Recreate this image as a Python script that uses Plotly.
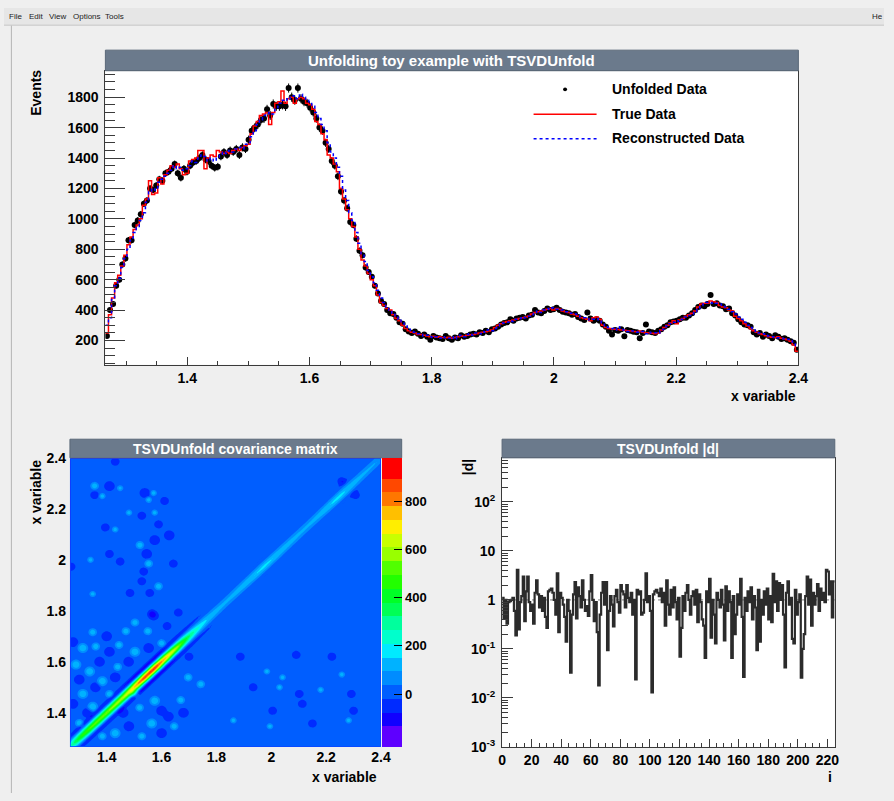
import numpy as np
import plotly.graph_objects as go
import colorsys

W, H = 894, 801
FONT = "Liberation Sans, Arial, Helvetica, sans-serif"

# ---------------- data ----------------
X_MIN, X_MAX, N_BINS = 1.266, 2.4, 225

true_data = [
    250, 370, 480, 580, 630, 690, 760, 830, 880, 930,
    960, 1000, 1090, 1130, 1250, 1160, 1170, 1270, 1230, 1290,
    1320, 1350, 1340, 1360, 1330, 1290, 1300, 1380, 1390, 1400,
    1450, 1450, 1330, 1400, 1420, 1410, 1450, 1440, 1430, 1440,
    1430, 1450, 1460, 1450, 1470, 1480, 1490, 1560, 1610, 1640,
    1680, 1690, 1700, 1620, 1700, 1760, 1770, 1840, 1760, 1790,
    1800, 1760, 1790, 1800, 1790, 1760, 1750, 1720, 1640, 1620,
    1560, 1520, 1420, 1400, 1360, 1310, 1200, 1130, 1060, 1000,
    950, 880, 800, 730, 690, 640, 600, 560, 500, 450,
    430, 410, 400, 370, 345, 330, 300, 280, 265, 255,
    250, 240, 240, 235, 230, 225, 228, 222, 225, 220,
    218, 222, 215, 220, 225, 230, 228, 235, 238, 240,
    245, 250, 255, 258, 262, 270, 285, 300, 310, 320,
    325, 330, 335, 340, 345, 350, 355, 362, 375, 385,
    390, 395, 400, 405, 410, 400, 410, 405, 395, 390,
    385, 375, 370, 360, 350, 345, 340, 330, 350, 355,
    340, 300, 285, 280, 278, 275, 272, 270, 268, 265,
    262, 260, 258, 262, 255, 250, 252, 248, 245, 250,
    270, 285, 300, 315, 330, 310, 335, 345, 360, 370,
    380, 395, 420, 440, 445, 445, 460, 455, 450, 430,
    420, 415, 400, 395, 360, 345, 330, 310, 295, 280,
    265, 255, 245, 240, 232, 225, 222, 220, 225, 215,
    210, 205, 195, 170, 130,
]

unfolded_data = [
    230, 400, 440, 560, 600, 700, 740, 860, 860, 960,
    990, 1030, 1100, 1120, 1200, 1190, 1220, 1260, 1250, 1300,
    1310, 1330, 1360, 1300, 1270, 1330, 1310, 1350, 1370, 1380,
    1400, 1420, 1390, 1380, 1350, 1336, 1343, 1410, 1440, 1420,
    1450, 1440, 1460, 1420, 1470, 1460, 1520, 1580, 1600, 1620,
    1650, 1660, 1720, 1680, 1755, 1740, 1740, 1750, 1740, 1860,
    1800, 1780, 1860, 1790, 1770, 1760, 1730, 1700, 1660, 1600,
    1580, 1500, 1460, 1380, 1350, 1280, 1180, 1120, 1070, 980,
    960, 870, 790, 760, 680, 650, 620, 560, 510, 460,
    440, 400, 380, 375, 350, 320, 310, 275, 260, 250,
    260, 245, 230, 240, 225, 205, 230, 220, 215, 210,
    230, 215, 205, 220, 215, 235, 225, 230, 240, 245,
    240, 255, 250, 265, 255, 275, 280, 290, 305, 315,
    320, 340, 330, 345, 350, 355, 345, 365, 370, 400,
    385, 380, 395, 410, 400, 405, 415, 400, 390, 385,
    380, 370, 375, 355, 345, 335, 385, 345, 330, 340,
    330, 305, 290, 265, 240, 270, 265, 275, 228, 270,
    265, 258, 255, 215, 250, 305, 260, 255, 250, 265,
    275, 290, 300, 320, 325, 330, 340, 350, 350, 365,
    380, 400, 420, 430, 425, 440, 500, 440, 445, 430,
    425, 405, 410, 380, 365, 340, 320, 305, 300, 290,
    255, 240, 250, 225, 240, 230, 215, 235, 225, 210,
    215, 205, 195, 185, 140,
]

reco_data = [
    300, 350, 470, 560, 610, 680, 740, 800, 860, 910,
    950, 990, 1040, 1110, 1180, 1200, 1190, 1240, 1260, 1280,
    1300, 1320, 1350, 1330, 1340, 1320, 1330, 1350, 1380, 1370,
    1400, 1420, 1410, 1380, 1400, 1380, 1400, 1420, 1440, 1430,
    1450, 1440, 1460, 1470, 1460, 1490, 1500, 1540, 1580, 1620,
    1650, 1680, 1690, 1700, 1690, 1730, 1760, 1780, 1790, 1780,
    1800, 1810, 1790, 1820, 1800, 1780, 1770, 1740, 1700, 1660,
    1620, 1580, 1500, 1440, 1400, 1340, 1280, 1190, 1120, 1040,
    990, 910, 840, 770, 720, 660, 620, 580, 530, 480,
    450, 420, 400, 380, 355, 340, 315, 295, 275, 260,
    255, 245, 240, 230, 235, 225, 220, 225, 215, 225,
    220, 215, 225, 210, 230, 235, 225, 240, 245, 235,
    250, 245, 260, 255, 270, 265, 280, 295, 305, 315,
    320, 330, 325, 340, 345, 355, 350, 360, 370, 380,
    395, 385, 400, 410, 405, 415, 405, 400, 400, 390,
    390, 380, 375, 365, 355, 350, 345, 335, 340, 345,
    335, 315, 290, 285, 280, 270, 290, 275, 270, 260,
    265, 262, 255, 258, 260, 245, 255, 250, 252, 248,
    265, 275, 295, 310, 320, 330, 325, 340, 355, 365,
    375, 390, 410, 430, 440, 450, 445, 450, 445, 440,
    425, 420, 405, 390, 375, 355, 340, 320, 300, 285,
    270, 260, 250, 245, 235, 230, 225, 222, 218, 215,
    212, 208, 200, 190, 160,
]

# |d_i| (SVD coefficients)
d_abs = [
    1.1, 0.42, 1.0, 0.33, 0.9, 0.95, 1.0, 1.1, 0.6, 0.19,
    4.1, 0.25, 0.9, 1.2, 3.0, 0.37, 1.5, 3.0, 0.9, 0.6,
    0.8, 0.33, 1.4, 2.5, 1.3, 0.7, 1.2, 0.6, 1.1, 0.45,
    0.27, 1.5, 1.6, 1.7, 1.4, 1.0, 0.5, 3.5, 0.22, 1.4,
    1.1, 0.8, 0.45, 0.14, 1.0, 0.6, 0.033, 0.5, 1.3, 2.3,
    0.42, 1.8, 1.2, 0.7, 2.5, 1.0, 0.6, 0.75, 0.47, 1.5,
    3.2, 1.0, 0.37, 0.9, 0.22, 0.018, 0.5, 1.4, 2.3, 0.8,
    2.3, 0.095, 0.6, 1.2, 0.8, 0.29, 1.2, 1.6, 0.9, 0.55,
    2.0, 1.5, 1.3, 0.7, 2.0, 1.1, 0.9, 1.4, 0.5, 1.0,
    0.024, 1.6, 1.3, 1.5, 0.5, 0.55, 1.0, 3.5, 0.9, 1.2,
    0.6, 0.013, 1.3, 1.5, 1.6, 1.4, 1.2, 1.7, 0.9, 1.4,
    0.3, 2.5, 0.8, 0.5, 1.6, 0.7, 1.8, 0.9, 0.4, 1.1,
    0.07, 0.27, 1.2, 0.6, 1.4, 2.0, 1.0, 0.5, 1.2, 1.5,
    0.8, 1.6, 0.35, 1.3, 0.9, 0.4, 0.3, 0.066, 1.5, 0.9,
    2.7, 0.17, 1.0, 0.5, 0.13, 1.4, 1.0, 0.7, 1.6, 0.8,
    0.15, 1.9, 0.6, 1.5, 0.9, 0.066, 1.2, 0.2, 0.5, 1.3,
    0.8, 2.7, 0.45, 0.027, 1.1, 0.6, 1.5, 0.9, 1.8, 0.4,
    1.2, 0.7, 0.095, 1.6, 0.14, 1.0, 0.5, 1.5, 0.8, 1.7,
    0.4, 1.2, 0.35, 3.4, 0.9, 2.4, 0.6, 2.2, 1.0, 2.0,
    0.5, 0.042, 1.4, 2.4, 0.8, 1.1, 0.16, 0.13, 1.6, 0.5,
    0.9, 1.3, 0.026, 0.1, 0.2, 1.2, 3.0, 0.8, 2.6, 0.3,
    1.4, 0.8, 1.2, 2.1, 0.6, 1.7, 1.0, 1.4, 0.9, 4.1,
    3.8, 1.3, 2.4, 0.44, 2.4,
]

# diagonal of the covariance matrix (variance of the unfolded bins)
cov_diag = [
    260, 290, 320, 350, 380, 400, 420, 440, 460, 470,
    480, 490, 500, 510, 520, 520, 530, 530, 540, 540,
    540, 550, 550, 560, 560, 560, 570, 570, 580, 580,
    590, 590, 600, 600, 610, 610, 620, 620, 630, 640,
    650, 660, 680, 700, 720, 740, 760, 780, 800, 820,
    840, 860, 880, 900, 910, 880, 900, 920, 930, 910,
    930, 920, 900, 880, 860, 840, 820, 800, 780, 760,
    740, 720, 700, 680, 660, 640, 620, 600, 570, 540,
    510, 480, 450, 420, 390, 360, 340, 320, 300, 280,
    260, 245, 230, 215, 200, 190, 180, 170, 160, 155,
    150, 145, 140, 135, 130, 128, 125, 122, 120, 118,
    116, 115, 114, 114, 115, 116, 118, 120, 122, 124,
    126, 128, 130, 132, 134, 136, 138, 140, 142, 145,
    148, 150, 152, 155, 158, 160, 162, 165, 168, 170,
    172, 170, 168, 165, 162, 160, 156, 152, 148, 145,
    142, 140, 138, 136, 134, 132, 130, 128, 126, 125,
    124, 122, 120, 118, 116, 115, 114, 113, 112, 112,
    112, 112, 113, 114, 115, 116, 118, 120, 122, 125,
    128, 131, 134, 137, 140, 144, 148, 152, 156, 160,
    164, 168, 170, 172, 172, 170, 168, 165, 160, 155,
    150, 146, 142, 138, 134, 130, 127, 124, 121, 118,
    116, 114, 112, 110, 108, 106, 105, 104, 103, 102,
    100, 98, 96, 94, 90,
]

# correlation between bins as a function of bin distance
cov_lag_corr = [1.0, 0.9, 0.76, 0.58, 0.38, 0.2, 0.05, -0.07, -0.12, -0.1, -0.05]

# off-diagonal covariance fluctuations: (x, y, peak value, radius in bins)
cov_blobs = [
    (1.431, 2.385, -70, 2), (1.356, 2.290, 140, 2), (1.410, 2.289, -70, 3), (1.449, 2.281, 120, 1),
    (1.356, 2.254, -70, 2), (1.384, 2.250, 130, 1), (1.539, 2.262, -70, 3), (1.571, 2.262, 130, 1),
    (1.611, 2.231, -70, 2), (1.553, 2.235, 130, 1), (1.481, 2.185, 130, 1), (1.528, 2.173, -70, 2),
    (1.575, 2.185, 130, 1), (1.589, 2.139, -70, 2), (1.395, 2.127, -70, 2), (1.431, 2.119, 130, 1),
    (1.628, 2.096, -70, 3), (1.575, 2.077, -70, 3), (1.521, 2.058, 140, 2), (1.546, 2.023, -70, 3),
    (1.410, 2.023, -70, 2), (1.449, 1.993, -70, 2), (1.553, 1.985, 140, 2), (1.270, 1.973, -70, 2),
    (1.341, 2.000, 130, 1), (1.535, 1.954, -70, 2), (1.643, 1.985, -70, 2), (1.589, 1.896, 140, 2),
    (1.528, 1.916, -70, 2), (1.485, 1.870, -70, 2), (1.557, 1.870, -70, 2), (1.349, 1.866, 130, 1),
    (1.571, 1.781, -70, 3), (1.661, 1.793, -70, 2), (2.257, 2.308, -70, 2), (2.307, 2.254, -70, 2),
    (1.503, 1.754, 140, 2), (1.349, 1.716, 140, 2), (1.564, 1.789, -70, 2), (1.277, 1.677, -70, 3),
    (1.313, 1.654, 150, 3), (1.410, 1.639, -70, 3), (1.445, 1.666, 140, 2), (1.503, 1.639, 150, 3),
    (1.553, 1.654, -70, 3), (1.600, 1.673, 140, 2), (1.288, 1.589, 150, 3), (1.338, 1.562, 150, 3),
    (1.374, 1.600, -70, 3), (1.384, 1.524, 150, 3), (1.431, 1.539, -70, 3), (1.359, 1.500, -70, 3),
    (1.313, 1.474, 150, 3), (1.277, 1.435, -70, 3), (1.349, 1.424, 150, 3), (1.410, 1.474, 140, 2),
    (1.503, 1.474, 140, 2), (1.575, 1.447, 150, 3), (1.600, 1.408, -70, 3), (1.564, 1.358, 150, 3),
    (1.625, 1.385, -70, 3), (1.646, 1.347, 140, 2), (1.481, 1.347, -70, 3), (1.431, 1.320, 150, 3),
    (1.384, 1.308, 140, 2), (1.528, 1.308, 140, 2), (1.600, 1.320, -70, 3), (1.697, 1.539, 140, 2),
    (1.743, 1.512, 140, 2),
    (1.300, 1.360, 140, 2), (1.330, 1.400, -70, 3), (1.460, 1.400, -70, 3), (1.520, 1.420, 140, 2),
    (1.440, 1.580, 140, 2), (1.480, 1.600, -70, 3), (1.400, 1.700, -70, 3), (1.470, 1.720, 140, 2),
    (1.300, 1.530, -70, 3), (1.550, 1.720, 140, 2), (1.620, 1.740, -70, 2), (1.670, 1.450, 140, 2),
    (1.680, 1.400, -70, 3), (1.700, 1.620, -70, 2), (1.360, 1.660, 140, 2),
    (1.887, 1.620, -70, 2), (1.984, 1.562, 130, 1), (2.041, 1.539, 130, 1), (2.091, 1.627, -70, 2),
    (2.221, 1.620, -70, 2), (2.257, 1.550, 130, 1), (1.934, 1.500, -70, 2), (2.030, 1.500, 130, 1),
    (2.102, 1.474, -70, 2), (2.180, 1.490, 130, 1), (2.292, 1.474, -70, 2), (2.300, 1.408, -70, 2),
    (2.282, 1.370, 130, 1), (2.005, 1.408, -70, 2), (2.113, 1.435, -70, 2), (1.862, 1.370, 130, 1),
    (1.995, 1.347, 130, 1), (2.150, 1.358, -70, 2),
]

x_tick_vals = [1.4, 1.6, 1.8, 2.0, 2.2, 2.4]
cov_tick_vals = [0, 200, 400, 600, 800]
d_tick_vals = [1e-3, 1e-2, 1e-1, 1, 10, 100]
d_tick_text = ["10<sup>-3</sup>", "10<sup>-2</sup>", "10<sup>-1</sup>", "1", "10", "10<sup>2</sup>"]

# ---------------- derived structures ----------------
edges = np.linspace(X_MIN, X_MAX, N_BINS + 1)
centers = 0.5 * (edges[:-1] + edges[1:])
bin_w = (X_MAX - X_MIN) / N_BINS
true_arr = np.array(true_data, float)
unf_arr = np.array(unfolded_data, float)
reco_arr = np.array(reco_data, float)
diag = np.array(cov_diag, float)
unf_err = np.sqrt(diag)

cov = np.zeros((N_BINS, N_BINS))
sd = np.sqrt(diag)
for lag, r in enumerate(cov_lag_corr):
    idx = np.arange(N_BINS - lag)
    vals = r * sd[idx] * sd[idx + lag]
    cov[idx, idx + lag] = vals
    cov[idx + lag, idx] = vals

grid = np.arange(N_BINS)
GX, GY = np.meshgrid(grid, grid)
for bx, by, v, rad in cov_blobs:
    fx_c = (bx - X_MIN) / bin_w - 0.5
    fy_c = (by - X_MIN) / bin_w - 0.5
    ext = rad + 2.5
    d2 = ((GX - fx_c) ** 2 + (GY - fy_c) ** 2) / ext ** 2
    bump = np.where(d2 < 1, (1 - d2) ** 2, 0.0)
    cov += v * bump

d_edges = np.arange(len(d_abs) + 1)

# ---------------- style ----------------
C_START, C_END, C_SIZE = -190, 950, 57
hues = [262, 244, 230, 218, 207, 198, 185, 168, 157, 140,
        129, 112, 101, 84, 73, 56, 45, 28, 17, 0]
def hls(h):
    r, g, b = colorsys.hls_to_rgb(h / 360.0, 0.5, 1.0)
    return "rgb(%d,%d,%d)" % (round(r * 255), round(g * 255), round(b * 255))
band_cols = [hls(h) for h in hues]
scale_cols = [band_cols[0]] + band_cols + [band_cols[-1]]
n = len(scale_cols) - 1
colorscale = [[j / n, c] for j, c in enumerate(scale_cols)]

def fx(x):
    return x / W

def fy(y):
    return 1 - y / H

TITLE_BG = "#6b7a8c"
AX = "#3a3a3a"
tickf = dict(family=FONT, size=14, color="black", weight="bold")

fig = go.Figure()

# top pad
fig.add_trace(go.Scatter(
    x=centers, y=unf_arr, mode="markers", xaxis="x", yaxis="y",
    marker=dict(color="black", size=6),
    error_y=dict(type="data", array=unf_err, color="black", thickness=1, width=0),
    name="Unfolded Data"))
fig.add_trace(go.Scatter(
    x=edges, y=np.append(true_arr, true_arr[-1]), mode="lines", line_shape="hv",
    xaxis="x", yaxis="y", line=dict(color="#ff0000", width=1.5), name="True Data"))
fig.add_trace(go.Scatter(
    x=edges, y=np.append(reco_arr, reco_arr[-1]), mode="lines", line_shape="hv",
    xaxis="x", yaxis="y", line=dict(color="#0000ff", width=1.5, dash="dot"),
    name="Reconstructed Data"))

# covariance
fig.add_trace(go.Contour(
    x=centers, y=centers, z=cov, xaxis="x2", yaxis="y2",
    autocontour=False,
    contours=dict(start=C_START, end=C_END, size=C_SIZE, coloring="fill", showlines=False),
    line=dict(width=0), colorscale=colorscale,
    colorbar=dict(
        x=fx(384), xanchor="left", xpad=0, y=fy(754), yanchor="bottom", ypad=0,
        len=295 / H, lenmode="fraction", thickness=20, thicknessmode="pixels",
        outlinewidth=0, ticks="inside", ticklen=8, tickcolor="black", tickwidth=1,
        tickmode="array", tickvals=cov_tick_vals,
        tickfont=dict(family=FONT, size=13, color="black", weight="bold")),
    hoverinfo="skip"))

# |d|
fig.add_trace(go.Scatter(
    x=[0, len(d_abs)], y=[1, 1], mode="lines", xaxis="x3", yaxis="y3",
    line=dict(color="#777777", width=1, dash="dot")))
fig.add_trace(go.Scatter(
    x=d_edges, y=d_abs + [d_abs[-1]], mode="lines", line_shape="hv",
    xaxis="x3", yaxis="y3", line=dict(color="#2b2b2b", width=2.2)))

minor_log = [m * 10.0 ** e for e in range(-3, 3) for m in range(2, 10)]

fig.update_layout(
    width=W, height=H, autosize=False, margin=dict(l=0, r=0, t=0, b=0),
    paper_bgcolor="#efefef", plot_bgcolor="white", showlegend=False,
    font=dict(family=FONT, color="black"),
    xaxis=dict(domain=[fx(103), fx(807)], range=[X_MIN, X_MAX], anchor="y",
               tickmode="linear", tick0=1.4, dtick=0.2,
               ticks="inside", ticklen=8, tickcolor=AX,
               minor=dict(tick0=1.4, dtick=0.05, ticks="inside", ticklen=4, tickcolor=AX),
               showline=True, linecolor=AX, linewidth=1, mirror=True,
               showgrid=False, zeroline=False, tickfont=tickf),
    yaxis=dict(domain=[fy(364), fy(64)], range=[41, 1974], anchor="x",
               tickmode="linear", tick0=0, dtick=200,
               ticks="inside", ticklen=20, tickcolor=AX,
               minor=dict(tick0=0, dtick=50, ticks="inside", ticklen=10, tickcolor=AX),
               showline=True, linecolor=AX, linewidth=1, mirror=True,
               showgrid=False, zeroline=False, tickfont=tickf, ticklabelstandoff=3),
    xaxis2=dict(domain=[fx(67), fx(383)], range=[X_MIN, X_MAX], anchor="y2",
                tickmode="array", tickvals=x_tick_vals, ticks="",
                showline=False, showgrid=False, zeroline=False, tickfont=tickf),
    yaxis2=dict(domain=[fy(754), fy(459)], range=[X_MIN, X_MAX], anchor="x2",
                tickmode="array", tickvals=x_tick_vals, ticks="",
                showline=False, showgrid=False, zeroline=False, tickfont=tickf,
                ticklabelstandoff=3),
    xaxis3=dict(domain=[fx(506), fx(844)], range=[0, len(d_abs)], anchor="y3",
                tickmode="linear", tick0=0, dtick=20,
                ticks="inside", ticklen=8, tickcolor=AX,
                minor=dict(tick0=0, dtick=5, ticks="inside", ticklen=4, tickcolor=AX),
                showline=True, linecolor=AX, linewidth=1, mirror=True,
                showgrid=False, zeroline=False, tickfont=tickf),
    yaxis3=dict(domain=[fy(754), fy(459)], type="log", range=[-3, 2.9], anchor="x3",
                tickmode="array", tickvals=d_tick_vals, ticktext=d_tick_text,
                ticks="inside", ticklen=11, tickcolor=AX,
                minor=dict(tickmode="array", tickvals=minor_log, ticks="inside", ticklen=6, tickcolor=AX),
                showline=True, linecolor=AX, linewidth=1, mirror=True,
                showgrid=False, zeroline=False, tickfont=tickf, ticklabelstandoff=3),
)

shapes = []
# menu bar and canvas frame
shapes.append(dict(type="rect", xref="paper", yref="paper", x0=0, x1=1, y0=fy(17), y1=1,
                   fillcolor="#e6e6e6", line=dict(width=0), layer="below"))
shapes.append(dict(type="line", xref="paper", yref="paper", x0=0, x1=1, y0=fy(17.5), y1=fy(17.5),
                   line=dict(color="#c4c4c4", width=1)))
shapes.append(dict(type="line", xref="paper", yref="paper", x0=fx(7.5), x1=fx(7.5), y0=0, y1=fy(18),
                   line=dict(color="#b4b4b4", width=1)))
# heatmap background (zero band)
shapes.append(dict(type="rect", xref="x2 domain", yref="y2 domain", x0=0, x1=1, y0=0, y1=1,
                   fillcolor=band_cols[3], line=dict(width=0), layer="below"))
# title bars
for (x0, x1) in [(103, 807), (67, 404), (506, 844)]:
    y0, y1 = (43, 64) if x0 == 103 else (440, 459)
    shapes.append(dict(type="rect", xref="paper", yref="paper",
                       x0=fx(x0), x1=fx(x1), y0=fy(y1), y1=fy(y0),
                       fillcolor=TITLE_BG, line=dict(color="#5a6878", width=1)))
# legend symbols
shapes.append(dict(type="circle", xref="paper", yref="paper",
                   x0=fx(568), x1=fx(572), y0=fy(85), y1=fy(81),
                   fillcolor="black", line=dict(color="black", width=0)))
shapes.append(dict(type="line", xref="paper", yref="paper", x0=fx(538), x1=fx(602),
                   y0=fy(108.5), y1=fy(108.5), line=dict(color="#ff0000", width=1.5)))
shapes.append(dict(type="line", xref="paper", yref="paper", x0=fx(538), x1=fx(602),
                   y0=fy(133.5), y1=fy(133.5), line=dict(color="#0000ff", width=1.5, dash="dot")))

ann = []
def text(x, y, s, size=14, color="black", xanchor="center", bold=True, angle=0):
    ann.append(dict(x=fx(x), y=fy(y), xref="paper", yref="paper", text=s, showarrow=False,
                    xanchor=xanchor, yanchor="middle", textangle=angle,
                    font=dict(family=FONT, size=size, color=color,
                              weight="bold" if bold else "normal")))

# menu
for label, x in [("File", 3), ("Edit", 23), ("View", 44), ("Options", 68), ("Tools", 101), ("He", 880)]:
    ann.append(dict(x=fx(x), y=fy(9), xref="paper", yref="paper", text=label, showarrow=False,
                    xanchor="left", yanchor="middle",
                    font=dict(family=FONT, size=8, color="#222222")))
# titles
text(455, 53.5, "Unfolding toy example with TSVDUnfold", size=15, color="white")
text(235.5, 449.5, "TSVDUnfold covariance matrix", size=14, color="white")
text(675, 449.5, "TSVDUnfold |d|", size=14, color="white")
# axis titles
text(33, 86, "Events", angle=-90)
text(807, 396, "x variable", xanchor="right")
text(33, 494, "x variable", angle=-90)
text(381, 785, "x variable", xanchor="right")
text(471, 469, "|d|", angle=-90)
text(843, 785, "i", xanchor="right")
# legend labels
text(616, 83, "Unfolded Data", xanchor="left")
text(616, 108, "True Data", xanchor="left")
text(616, 133, "Reconstructed Data", xanchor="left")

fig.update_layout(shapes=shapes, annotations=ann)
fig.write_html(
    "out.html",
    config={"displayModeBar": False},
    post_script="document.body.style.margin='0px';document.body.style.overflow='hidden';",
)
